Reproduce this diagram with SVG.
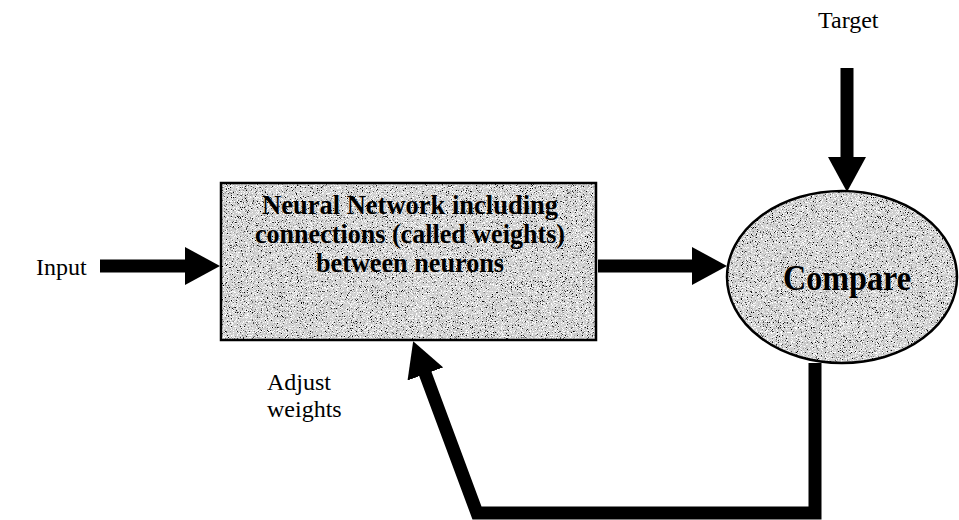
<svg xmlns="http://www.w3.org/2000/svg" width="959" height="520" viewBox="0 0 959 520">
  <style>
    .label { font-family: "Liberation Serif", "Times New Roman", serif; font-size: 24px; fill: #000; }
    .title { font-family: "Liberation Serif", "Times New Roman", serif; font-weight: bold; fill: #000; text-anchor: middle; }
    .shape { fill: #cdcdcd; filter: url(#grain); }
    .outline { fill: none; stroke: #000; stroke-width: 2.5; }
    .flow { fill: none; stroke: #000; stroke-width: 13; stroke-linejoin: miter; stroke-miterlimit: 10; marker-end: url(#head); }
  </style>
  <defs>
    <!-- speckled grey fill: black and white grains scattered over a light grey base -->
    <filter id="grain" x="0" y="0" width="100%" height="100%" color-interpolation-filters="sRGB">
      <feTurbulence type="fractalNoise" baseFrequency="1.2" numOctaves="2" seed="7" result="noise"/>
      <feColorMatrix in="noise" type="matrix" values="0 0 0 0 0  0 0 0 0 0  0 0 0 0 0  8 0 0 0 -5.0" result="dark"/>
      <feColorMatrix in="noise" type="matrix" values="0 0 0 0 1  0 0 0 0 1  0 0 0 0 1  -7 0 0 0 3.4" result="light"/>
      <feMerge result="mix">
        <feMergeNode in="SourceGraphic"/>
        <feMergeNode in="light"/>
        <feMergeNode in="dark"/>
      </feMerge>
      <feComposite in="mix" in2="SourceGraphic" operator="in"/>
    </filter>
    <marker id="head" markerUnits="userSpaceOnUse" markerWidth="36" markerHeight="38" viewBox="0 0 36 38" refX="1" refY="19" orient="auto">
      <path d="M0,0 L35,19 L0,38 Z" fill="#000"/>
    </marker>
  </defs>

  <g id="network">
    <rect class="shape" x="221" y="183" width="375" height="157"/>
    <rect class="outline" x="221" y="183" width="375" height="157"/>
    <text class="title" font-size="27" x="410" y="214" textLength="296" lengthAdjust="spacingAndGlyphs">Neural Network including</text>
    <text class="title" font-size="27" x="410" y="243" textLength="310" lengthAdjust="spacingAndGlyphs">connections (called weights)</text>
    <text class="title" font-size="27" x="410" y="272" textLength="188" lengthAdjust="spacingAndGlyphs">between neurons</text>
  </g>

  <g id="compare">
    <ellipse class="shape" cx="842" cy="277" rx="115" ry="86"/>
    <ellipse class="outline" cx="842" cy="277" rx="115" ry="86"/>
    <text class="title" font-size="35" x="847" y="290" textLength="128" lengthAdjust="spacingAndGlyphs">Compare</text>
  </g>

  <g id="input">
    <text class="label" x="36" y="275">Input</text>
  </g>

  <g id="target">
    <text class="label" x="818" y="28">Target</text>
  </g>

  <g id="adjust">
    <text class="label" x="267" y="390">Adjust</text>
    <text class="label" x="267" y="417">weights</text>
  </g>

  <g id="connectors">
    <line class="flow" x1="100" y1="266" x2="186" y2="266"/>
    <line class="flow" x1="598" y1="266" x2="693" y2="266"/>
    <line class="flow" x1="847" y1="68" x2="847" y2="158"/>
    <polyline class="flow" points="815,363 815,513 477,513 425,373"/>
  </g>
</svg>
